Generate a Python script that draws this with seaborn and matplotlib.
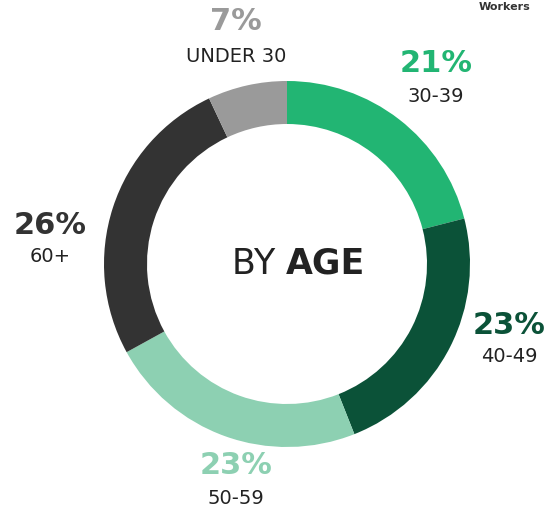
import matplotlib.pyplot as plt
import seaborn as sns

# age groups, clockwise from 12 o'clock
groups = ['30-39', '40-49', '50-59', '60+', 'UNDER 30']
shares = [21, 23, 23, 26, 7]
colors = ['#22b573', '#0b5238', '#8dd0b2', '#333333', '#9a9a9a']
pct_colors = ['#22b573', '#0b5238', '#8dd0b2', '#333333', '#9a9a9a']

sns.set_theme(style='white')
plt.rcParams['font.family'] = ['DejaVu Sans']

fig = plt.figure(figsize=(5.5, 5.15), dpi=100)
ax = fig.add_axes([0, 0, 1, 1])

# y axis is flipped below, so counterclock=True draws clockwise on screen
ax.pie(shares, colors=colors, startangle=-90, counterclock=True,
       center=(287, 264), radius=183,
       wedgeprops=dict(width=43, linewidth=0))
ax.set_xlim(0, 550)
ax.set_ylim(515, 0)
ax.set_aspect('equal')
ax.axis('off')

# label positions (pixels): x, y of percent, y of group name
label_pos = {
    '30-39': (436, 63, 96),
    '40-49': (509, 325, 357),
    '50-59': (236, 466, 498),
    '60+': (50, 226, 257),
    'UNDER 30': (236, 22, 56),
}
for g, s, c in zip(groups, shares, pct_colors):
    x, y1, y2 = label_pos[g]
    ax.text(x, y1, f'{s}%', ha='center', va='center', fontsize=22,
            fontweight='bold', color=c)
    ax.text(x, y2, g, ha='center', va='center', fontsize=14, color='#222222')

ax.text(286, 264, 'BY ', ha='right', va='center', fontsize=25, color='#222222')
ax.text(286, 264, 'AGE', ha='left', va='center', fontsize=25,
        fontweight='bold', color='#222222')
ax.text(505, 7, 'Workers', ha='center', va='center', fontsize=8,
        fontweight='bold', color='#333333')

fig.savefig('out.png', dpi=100)
